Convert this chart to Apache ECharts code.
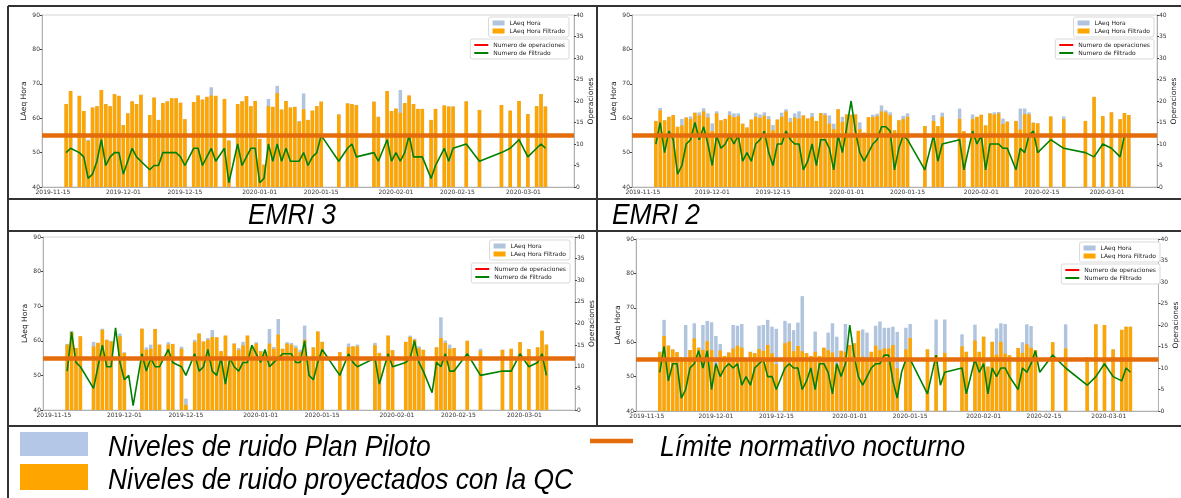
<!DOCTYPE html>
<html>
<head>
<meta charset="utf-8">
<title>LAeq Hora - EMRI</title>
<script src="https://cdn.jsdelivr.net/npm/echarts@6/dist/echarts.min.js"></script>
<style>
  html, body { margin: 0; padding: 0; background: #fff; }
  #chart { width: 1181px; height: 498px; }
</style>
</head>
<body>
<div id="chart"></div>
<script>
// day numbers are counted from 2019-11-15 (0 = 2019-11-15)
const axisFirstDay = -2;
const axisLastDay = 118;

// ---- top left panel
const tlDays = [3, 4, 6, 7, 8, 9, 10, 11, 12, 13, 14, 15, 16, 17, 18, 19, 20, 22, 23, 24, 25, 26, 27, 28, 29, 30,
  32, 33, 34, 35, 36, 37, 39, 40, 42, 43, 44, 45, 46, 47, 48, 49, 50, 51, 52, 53, 54, 55, 56, 57, 58, 59, 60, 61,
  65, 67, 68, 69, 73, 74, 76, 77, 78, 79, 80, 81, 82, 83, 84, 86, 87, 89, 90, 91, 94, 97, 102, 104, 106, 108, 110, 111, 112];
const tlHora = [64.1, 67.9, 66.5, 62.1, 53.8, 63.1, 63.5, 68.2, 64.1, 63.5, 67.0, 66.5, 58.0, 61.4, 64.9, 64.1, 66.8, 60.9, 66.0, 59.5, 64.4, 64.9, 65.8, 65.8, 64.5, 59.7,
  64.7, 66.6, 65.4, 66.2, 69.0, 66.5, 65.6, 53.5, 64.1, 64.9, 66.4, 63.5, 65.0, 54.0, 46.5, 65.6, 63.3, 69.4, 62.5, 65.0, 63.1, 63.3, 59.2, 67.2, 59.5, 62.2, 63.5, 64.8,
  61.1, 64.3, 64.1, 63.8, 64.8, 60.4, 67.9, 62.1, 62.8, 68.2, 64.4, 66.6, 64.1, 62.7, 62.7, 59.5, 62.7, 63.7, 63.4, 63.4, 64.9, 62.4, 63.8, 62.2, 65.0, 61.2, 63.5, 67.0, 63.4];
const tlFiltrado = [64.1, 67.9, 66.5, 62.1, 53.4, 63.1, 63.5, 68.2, 64.1, 63.5, 67.0, 66.5, 58.0, 61.4, 64.9, 64.1, 66.8, 60.9, 66.0, 59.5, 64.4, 64.9, 65.8, 65.8, 64.5, 59.7,
  64.7, 66.6, 65.4, 66.2, 66.6, 66.5, 65.6, 53.5, 64.1, 64.9, 66.4, 63.5, 65.0, 54.0, 46.5, 63.5, 63.3, 67.3, 62.5, 65.0, 63.1, 63.3, 59.0, 62.6, 59.5, 62.2, 63.5, 64.8,
  61.1, 64.3, 64.1, 63.8, 64.8, 60.4, 67.9, 62.1, 62.8, 61.6, 64.4, 66.6, 64.1, 62.7, 62.7, 59.5, 62.7, 63.7, 63.4, 63.4, 64.9, 62.4, 63.8, 62.2, 65.0, 61.2, 63.5, 67.0, 63.4];
const tlOps = [8, 9, 8, 7, 2, 3, 6, 11, 5, 7, 8, 8, 3, 6, 9, 7, 6, 4, 5, 5, 8, 8, 8, 8, 7, 5,
  9, 9, 5, 7, 9, 6, 9, 1, 10, 5, 7, 9, 9, 1, 2, 10, 6, 10, 6, 9, 6, 6, 6, 8, 5, 7, 8, 12,
  6, 9, 10, 7, 8, 6, 11, 6, 8, 6, 8, 12, 7, 7, 7, 2, 5, 9, 6, 9, 10, 6, 8, 9, 11, 7, 9, 10, 9];

// ---- top right panel
const trDays = [3, 4, 5, 6, 7, 8, 9, 10, 11, 12, 13, 14, 15, 16, 17, 18, 19, 20, 21, 22, 23, 24, 25, 26, 27, 28, 29, 30,
  31, 32, 33, 34, 35, 36, 37, 38, 39, 40, 41, 42, 43, 44, 45, 46, 47, 48, 49, 50, 51, 52, 53, 54, 55, 56, 57, 58, 59,
  60, 61, 65, 67, 68, 69, 73, 74, 76, 77, 78, 79, 80, 81, 82, 83, 84, 86, 87, 88, 89, 90, 91, 94, 97, 102, 104, 106, 108, 110, 111, 112];
const trHora = [59.2, 63.0, 59.4, 60.4, 60.9, 57.5, 59.8, 60.2, 60.5, 61.6, 61.7, 62.9, 61.4, 58.5, 62.0, 59.4, 59.8, 62.0, 61.4, 61.4, 58.4, 57.3, 59.6, 61.6, 61.1, 61.7, 60.6, 58.0,
  59.6, 61.6, 62.6, 60.1, 61.4, 62.0, 60.8, 59.9, 61.5, 59.2, 61.5, 61.5, 60.8, 58.4, 62.6, 60.4, 61.1, 61.0, 61.1, 58.8, 55.8, 60.3, 61.0, 61.3, 63.7, 62.3, 61.7, 56.5, 59.4,
  60.7, 61.4, 57.7, 60.9, 57.7, 61.6, 62.8, 56.2, 61.1, 60.4, 61.0, 57.9, 61.4, 61.7, 61.8, 59.9, 59.0, 59.2, 62.8, 62.8, 61.7, 58.7, 58.5, 60.5, 60.5, 59.2, 66.2, 60.6, 61.7, 59.7, 61.5, 60.9];
const trFiltrado = [59.2, 62.3, 59.4, 60.4, 60.9, 57.5, 57.9, 60.2, 59.7, 61.6, 60.8, 62.0, 60.2, 56.2, 61.4, 59.4, 59.8, 60.9, 60.3, 60.6, 58.4, 57.3, 59.6, 60.4, 60.1, 60.7, 59.7, 56.5,
  59.6, 60.4, 62.0, 58.9, 60.2, 59.9, 60.8, 59.9, 60.4, 59.2, 61.5, 60.9, 58.4, 56.8, 62.6, 58.9, 61.1, 61.0, 61.1, 56.8, 55.8, 60.3, 60.3, 60.6, 62.0, 61.7, 60.9, 56.5, 59.4,
  59.7, 60.4, 57.7, 59.2, 57.7, 60.4, 59.8, 56.2, 59.7, 60.4, 61.0, 57.9, 61.4, 61.1, 61.4, 58.3, 59.0, 59.2, 56.7, 61.2, 61.1, 58.7, 58.5, 60.5, 59.7, 59.2, 66.2, 60.6, 61.7, 59.7, 61.5, 60.9];
const trOps = [10, 15, 8, 13, 11, 3, 5, 10, 11, 15, 11, 14, 10, 5, 12, 9, 10, 12, 10, 12, 6, 8, 6, 10, 11, 13, 8, 5,
  10, 10, 13, 11, 10, 10, 4, 6, 10, 5, 11, 11, 9, 4, 12, 8, 14, 20, 13, 8, 6, 8, 10, 11, 14, 14, 13, 4, 9,
  12, 11, 4, 12, 6, 10, 11, 4, 13, 10, 12, 4, 10, 10, 10, 9, 9, 4, 9, 8, 12, 13, 8, 11, 9, 8, 7, 10, 9, 7, 12, null];

// ---- bottom left panel
const blDays = [3, 4, 5, 6, 9, 10, 11, 12, 13, 15, 16, 20, 21, 22, 23, 24, 26, 27, 29, 30,
  32, 33, 34, 35, 36, 37, 38, 39, 40, 41, 42, 43, 44, 45, 46, 47, 48, 49, 50, 51, 52, 53, 54, 55, 56, 57, 58, 59, 60, 61,
  65, 67, 68, 69, 73, 74, 76, 77, 80, 81, 82, 83, 84, 87, 88, 89, 90, 91, 94, 97, 102, 104, 106, 108, 110, 111, 112];
const blHora = [59.1, 62.9, 57.9, 61.3, 59.7, 59.4, 63.5, 60.3, 60.0, 62.1, 56.7, 63.5, 58.1, 58.9, 63.4, 58.9, 59.6, 59.1, 58.3, 43.3,
  60.3, 62.1, 59.8, 60.8, 63.1, 61.0, 57.0, 61.5, 54.1, 59.2, 57.9, 59.7, 61.5, 57.9, 59.6, 57.0, 56.8, 63.4, 58.2, 66.3, 57.7, 59.6, 59.4, 58.6, 57.4, 64.4, 54.3, 58.1, 62.7, 59.7,
  56.7, 59.2, 58.4, 58.9, 59.4, 56.5, 61.5, 57.3, 59.7, 61.5, 60.6, 58.4, 57.4, 58.1, 66.8, 60.1, 58.9, 57.9, 60.0, 57.7, 57.4, 57.7, 59.6, 57.6, 58.1, 62.9, 58.9];
const blFiltrado = [58.9, 62.5, 57.9, 61.3, 58.4, 59.4, 63.2, 60.3, 59.8, 61.3, 56.5, 63.5, 57.4, 57.7, 63.4, 58.9, 58.9, 59.1, 57.7, 41.5,
  59.7, 62.1, 59.8, 60.3, 61.1, 61.0, 57.0, 61.5, 54.1, 59.2, 57.4, 58.7, 61.5, 57.9, 59.2, 57.0, 56.8, 59.2, 57.7, 61.8, 57.7, 59.2, 58.9, 57.9, 56.7, 60.3, 54.3, 58.1, 62.7, 59.7,
  56.7, 58.2, 58.4, 58.4, 58.7, 56.5, 61.5, 57.3, 59.7, 61.1, 60.3, 57.9, 57.4, 58.1, 60.8, 59.4, 57.7, 57.9, 60.0, 57.1, 57.4, 57.7, 59.6, 57.6, 58.1, 62.9, 58.9];
const blOpsDays = [3, 4, 5, 6, 9, 10, 11, 12, 13, 14, 15, 16, 17, 18, 20, 21, 22, 23, 24, 26, 27, 29, 30,
  32, 33, 34, 35, 36, 37, 38, 39, 40, 41, 42, 43, 44, 45, 46, 47, 48, 49, 50, 51, 52, 53, 54, 55, 56, 57, 58, 59, 60, 61,
  65, 67, 68, 69, 73, 74, 76, 77, 80, 81, 82, 83, 84, 86, 87, 88, 89, 90, 91, 94, 97, 102, 104, 106, 108, 110, 111, 112];
const blOps = [9, 18, 11, 10, 5, 10, 15, 10, 10, 19, 11, 7, 8, 1, 13, 9, 12, 10, 10, 14, 11, 10, 8,
  13, 9, 10, 14, 9, 8, 12, 6, 12, 10, 9, 11, 11, 15, 13, 11, 14, 10, 11, 12, 13, 13, 13, 11, 11, 16, 8, 7, 11, 14,
  8, 13, 11, 10, 12, 6, 13, 10, 11, 12, 16, 11, 9, 4, 11, 10, 13, 9, 9, 13, 8, 9, 9, 13, 10, 11, 13, 8];

// ---- bottom right panel
const brDays = [3, 4, 5, 6, 7, 8, 9, 10, 11, 12, 13, 14, 15, 16, 17, 18, 19, 20, 21, 22, 23, 24, 25, 26, 27, 28, 29, 30,
  32, 33, 34, 35, 36, 37, 38, 39, 40, 41, 42, 43, 44, 45, 46, 47, 48, 49, 50, 51, 52, 53, 54, 55, 56, 57, 58,
  60, 61, 65, 67, 69, 73, 74, 76, 77, 78, 79, 80, 81, 82, 83, 84, 86, 87, 88, 89, 90, 94, 97, 102, 104, 106, 108, 110, 111, 112];
const brHora = [57.3, 66.5, 59.0, 57.9, 57.1, 55.7, 65.0, 57.7, 65.5, 58.4, 65.0, 66.2, 65.8, 61.8, 59.5, 56.0, 57.0, 65.0, 64.8, 65.3, 54.6, 57.2, 56.8, 64.8, 65.0, 66.5, 64.5, 63.9,
  66.2, 65.5, 63.5, 65.7, 73.4, 56.8, 56.0, 63.1, 56.0, 58.4, 62.8, 65.5, 61.6, 57.5, 65.3, 59.2, 59.7, 63.3, 63.7, 62.8, 57.2, 64.8, 66.0, 64.2, 64.2, 64.5, 63.0,
  64.2, 65.3, 57.9, 66.6, 66.6, 62.3, 57.2, 65.1, 57.2, 61.6, 52.9, 60.1, 64.0, 65.5, 65.3, 56.2, 58.3, 60.0, 65.2, 64.7, 57.7, 60.0, 65.2, 55.6, 65.2, 65.0, 57.9, 63.6, 64.5, 64.5];
const brFiltrado = [57.1, 61.8, 59.0, 57.9, 57.1, 55.7, 55.5, 57.7, 61.1, 58.4, 57.7, 60.3, 57.7, 53.1, 57.6, 56.0, 57.0, 58.2, 59.0, 58.4, 54.6, 57.2, 56.8, 58.0, 57.5, 59.2, 56.8, 53.6,
  59.7, 60.2, 57.4, 58.9, 57.4, 56.8, 56.0, 57.2, 56.0, 58.4, 57.7, 57.0, 53.4, 57.5, 57.2, 59.2, 59.7, 63.3, 55.8, 55.1, 57.2, 59.0, 57.7, 58.2, 58.2, 59.2, 52.4,
  57.9, 61.2, 57.9, 56.2, 56.9, 58.8, 57.2, 60.5, 57.2, 61.6, 52.9, 60.1, 56.4, 60.1, 56.7, 56.2, 58.3, 56.9, 59.4, 58.4, 57.7, 60.0, 58.2, 55.6, 65.2, 65.0, 57.9, 63.6, 64.5, 64.5];
const brOpsDays = [3, 4, 5, 6, 7, 8, 9, 10, 11, 12, 13, 14, 15, 16, 17, 18, 19, 20, 21, 22, 23, 24, 25, 26, 27, 28, 29, 30,
  32, 33, 34, 35, 36, 37, 38, 39, 40, 41, 42, 43, 44, 45, 46, 47, 48, 49, 50, 51, 52, 53, 54, 55, 56, 57,
  58, 59, 60, 61, 65, 67, 68, 69, 73, 74, 76, 77, 78, 79, 80, 81, 82, 83, 84, 86, 87, 88, 89, 90, 91, 94, 97, 102, 104, 106, 108, 110, 111, 112];
const brOps = [9, 15, 7, 11, 11, 3, 5, 10, 11, 14, 10, 14, 5, 11, 8, 10, 11, 10, 11, 6, 8, 6, 10, 11, 12, 8, 8, 5,
  10, 11, 10, 10, 5, 7, 10, 5, 11, 11, 9, 4, 11, 8, 11, 20, 13, 8, 6, 8, 10, 11, 11, 13, 13, 7,
  3, 9, 12, 12, 4, 13, 6, 9, 10, 4, 12, 9, 11, 4, 10, 8, 10, 10, 8, 5, 10, 9, 11, 14, 9, 13, 10, 6, 8, 11, 8, 7, 10, 9];

const dbTicks = { min: 40, max: 90, step: 10 };
const opsTicks = { min: 0, max: 40, step: 5 };
const limiteNocturno = 55;

function dayLabel(d) {
  return new Date(Date.UTC(2019, 10, 15 + d)).toISOString().slice(0, 10);
}
const categories = [];
for (let d = axisFirstDay; d <= axisLastDay; d++) categories.push(dayLabel(d));
const pairs = (days, vals) => days.map((d, i) => [dayLabel(d), vals[i]]);
const isMark = (idx, val) => /-(01|15)$/.test(val);

const panels = [
  { grid: { left: 42, top: 15, width: 532, height: 172 }, legend: [17, 39], right: 612,
    days: tlDays, hora: tlHora, filt: tlFiltrado, opsDays: tlDays, ops: tlOps },
  { grid: { left: 632, top: 15, width: 525, height: 172 }, legend: [17, 39], right: 27,
    days: trDays, hora: trHora, filt: trFiltrado, opsDays: trDays, ops: trOps },
  { grid: { left: 43, top: 237, width: 532, height: 173 }, legend: [240, 263], right: 611,
    days: blDays, hora: blHora, filt: blFiltrado, opsDays: blOpsDays, ops: blOps },
  { grid: { left: 636, top: 239, width: 529, height: 172 }, legend: [242, 264], right: 21,
    days: brDays, hora: brHora, filt: brFiltrado, opsDays: brOpsDays, ops: brOps }
];

const tickFont = { fontSize: 6, color: '#333', fontFamily: 'DejaVu Sans' };
const nameFont = { fontSize: 7.5, color: '#222', fontFamily: 'DejaVu Sans' };

const option = {
  animation: false,
  backgroundColor: '#fff',
  grid: [], xAxis: [], yAxis: [], series: [], legend: []
};

panels.forEach((p, i) => {
  option.grid.push(Object.assign({ show: true, borderColor: '#d4d4d4', borderWidth: 1 }, p.grid));
  option.xAxis.push({
    type: 'category', gridIndex: i, data: categories, boundaryGap: true,
    axisLine: { lineStyle: { color: '#b0b0b0' } },
    axisTick: { interval: isMark, alignWithLabel: true, length: 2, lineStyle: { color: '#444' } },
    axisLabel: Object.assign({ interval: isMark, margin: 2 }, tickFont)
  });
  option.yAxis.push({
    type: 'value', gridIndex: i, min: dbTicks.min, max: dbTicks.max, interval: dbTicks.step,
    name: 'LAeq Hora', nameLocation: 'middle', nameRotate: 90, nameGap: 12, nameTextStyle: nameFont,
    splitLine: { show: false },
    axisLine: { show: true, lineStyle: { color: '#b0b0b0' } },
    axisTick: { show: true, length: 2, lineStyle: { color: '#444' } },
    axisLabel: Object.assign({ margin: 2 }, tickFont)
  });
  option.yAxis.push({
    type: 'value', gridIndex: i, position: 'right', min: opsTicks.min, max: opsTicks.max, interval: opsTicks.step,
    name: 'Operaciones', nameLocation: 'middle', nameRotate: 90, nameGap: 13, nameTextStyle: nameFont,
    splitLine: { show: false },
    axisLine: { show: true, lineStyle: { color: '#b0b0b0' } },
    axisTick: { show: true, length: 2, lineStyle: { color: '#444' } },
    axisLabel: Object.assign({ margin: 2 }, tickFont)
  });

  option.series.push({
    name: 'LAeq Hora', type: 'bar', xAxisIndex: i, yAxisIndex: 2 * i,
    data: pairs(p.days, p.hora), barWidth: '80%', barGap: '-100%',
    itemStyle: { color: '#b0c4de' }
  });
  option.series.push({
    name: 'LAeq Hora Filtrado', type: 'bar', xAxisIndex: i, yAxisIndex: 2 * i,
    data: pairs(p.days, p.filt), barWidth: '80%', barGap: '-100%',
    itemStyle: { color: '#ffa500' },
    markLine: {
      silent: true, symbol: 'none', label: { show: false },
      lineStyle: { color: '#e46c0a', width: 4.5, type: 'solid' },
      data: [{ yAxis: limiteNocturno }]
    }
  });
  option.series.push({
    name: 'Numero de operaciones', type: 'line', xAxisIndex: i, yAxisIndex: 2 * i + 1,
    data: [], itemStyle: { color: '#ff0000' }, lineStyle: { color: '#ff0000' }
  });
  option.series.push({
    name: 'Numero de Filtrado', type: 'line', xAxisIndex: i, yAxisIndex: 2 * i + 1,
    data: pairs(p.opsDays, p.ops), symbol: 'none', connectNulls: true,
    itemStyle: { color: '#008000' }, lineStyle: { color: '#008000', width: 1.6 }
  });

  const legendBase = {
    orient: 'vertical', align: 'left', right: p.right, selectedMode: false,
    padding: [3, 4, 3, 4], itemGap: 2, backgroundColor: '#fff',
    borderColor: '#d9d9d9', borderWidth: 1, borderRadius: 2,
    textStyle: { fontSize: 6, color: '#222', fontFamily: 'DejaVu Sans' }
  };
  option.legend.push(Object.assign({}, legendBase, {
    top: p.legend[0], itemWidth: 12, itemHeight: 5,
    data: [{ name: 'LAeq Hora', icon: 'rect' }, { name: 'LAeq Hora Filtrado', icon: 'rect' }]
  }));
  option.legend.push(Object.assign({}, legendBase, {
    top: p.legend[1], itemWidth: 14, itemHeight: 2,
    data: [{ name: 'Numero de operaciones', icon: 'rect' }, { name: 'Numero de Filtrado', icon: 'rect' }]
  }));
});

// table frame, cell labels and the figure legend
const frame = '#333';
const rule = (x1, y1, x2, y2) => ({ type: 'line', silent: true, z: 100,
  shape: { x1, y1, x2, y2 }, style: { stroke: frame, lineWidth: 2 } });
// the slide text is a condensed italic face, so a plain italic is squeezed a little
const label = (text, x, y, align) => ({ type: 'text', silent: true, z: 100, x, y,
  scaleX: 0.91, scaleY: 1,
  style: { text, fill: '#000', align, verticalAlign: 'middle',
    font: 'italic 29px "Liberation Sans", Arial, sans-serif' } });

option.graphic = { elements: [
  rule(8, 6, 1181, 6),
  rule(8, 6, 8, 498),
  rule(597, 6, 597, 426),
  rule(8, 199, 1181, 199),
  rule(8, 231, 1181, 231),
  rule(8, 426, 1181, 426),
  label('EMRI 3', 292, 215.5, 'center'),
  label('EMRI 2', 612, 215.5, 'left'),
  { type: 'rect', silent: true, shape: { x: 20, y: 432, width: 68, height: 24 }, style: { fill: '#b4c7e7' } },
  { type: 'rect', silent: true, shape: { x: 20, y: 464, width: 68, height: 26 }, style: { fill: '#ffa500' } },
  { type: 'line', silent: true, shape: { x1: 590, y1: 441, x2: 633, y2: 441 }, style: { stroke: '#e46c0a', lineWidth: 4.5 } },
  label('Niveles de ruido Plan Piloto', 108, 448, 'left'),
  label('Niveles de ruido proyectados con la QC', 108, 481, 'left'),
  label('Límite normativo nocturno', 660, 448, 'left')
] };

const chart = echarts.init(document.getElementById('chart'), null, { renderer: 'canvas' });
chart.setOption(option);
</script>
</body>
</html>
